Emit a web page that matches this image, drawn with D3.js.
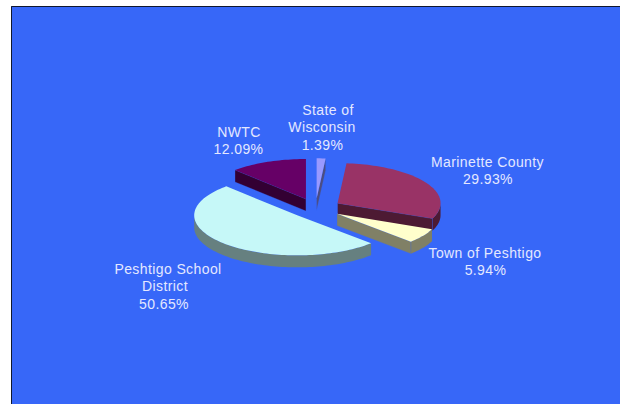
<!DOCTYPE html>
<html>
<head>
<meta charset="utf-8">
<style>
    html, body { margin: 0; padding: 0; background: #fff; overflow: hidden; }
    svg { display: block; }
    text {
        font-family: "Liberation Sans", Arial, sans-serif;
        font-size: 14px;
        letter-spacing: 0.4px;
        fill: #e4e8ff;
        text-anchor: middle;
    }
</style>
</head>
<body>
<script src="https://d3js.org/d3.v7.min.js"></script>
<script>
// shares, clockwise from 12 o'clock
var names = ["State of Wisconsin", "Marinette County", "Town of Peshtigo", "Peshtigo School District", "NWTC"];
var shares = [1.39, 29.93, 5.94, 50.65, 12.09];

// label lines, same order as above
var labelLines = [
  ["State of", "Wisconsin", "1.39%"],
  ["Marinette County", "29.93%"],
  ["Town of Peshtigo", "5.94%"],
  ["Peshtigo School", "District", "50.65%"],
  ["NWTC", "12.09%"]
];

var topColors = ["#9999ff", "#993366", "#ffffcc", "#c6f8f8", "#660066"];
var sideColors = ["#4d4d80", "#4d1a33", "#808066", "#668080", "#330033"];

var labelX = [[328, 322, 322.5], [487.5, 488], [485, 485.5], [168, 165, 164], [239, 238.5]];
var labelY = [115, 167, 258, 274, 137];
var lineGap = 17.3;

var width = 620, height = 404;
var explode = 0.25, depth = 12;
var panelColor = "#3767f8";

var svg = d3.select("body").append("svg").attr("width", width).attr("height", height);

// background panel, only the left and top edges have a frame
svg.append("rect").attr("x", 11).attr("y", 6).attr("width", width - 11).attr("height", height - 6)
    .attr("fill", panelColor);
svg.append("path").attr("d", "M11.5," + height + "V6.5H" + width)
    .attr("fill", "none").attr("stroke", "#10182e").attr("stroke-width", 1);

// unit circle to tilted ellipse
var x = d3.scaleLinear().domain([-1, 1]).range([315.5 - 103, 315.5 + 103]);
var y = d3.scaleLinear().domain([-1, 1]).range([208.3 - 40, 208.3 + 40]);

var slices = d3.pie().sort(null).startAngle(0).endAngle(2 * Math.PI)(shares);
var line = d3.line();

function arcPoints(a0, a1, ox, oy, drop) {
  var n = Math.max(2, Math.ceil((a1 - a0) / 0.03));
  return d3.range(n + 1).map(function(i) {
    var a = a0 + (a1 - a0) * i / n;
    return [x(ox + Math.sin(a)), y(oy - Math.cos(a)) + drop];
  });
}

function wall(p, q) {
  return line([[p[0], p[1]], [q[0], q[1]], [q[0], q[1] + depth], [p[0], p[1] + depth]]) + "Z";
}

var g = svg.selectAll("g.slice").data(slices).enter().append("g").attr("class", "slice");

g.each(function(d, i) {
  var s = d3.select(this);
  var mid = (d.startAngle + d.endAngle) / 2;
  var ox = explode * Math.sin(mid), oy = -explode * Math.cos(mid);
  var apex = [x(ox), y(oy)];
  var startPt = arcPoints(d.startAngle, d.startAngle, ox, oy, 0)[0];
  var endPt = arcPoints(d.endAngle, d.endAngle, ox, oy, 0)[0];

  // outer rim, visible only on the front half
  var a0 = Math.max(d.startAngle, Math.PI / 2), a1 = Math.min(d.endAngle, 3 * Math.PI / 2);
  if (a1 > a0) {
    var upper = arcPoints(a0, a1, ox, oy, 0);
    var lower = arcPoints(a0, a1, ox, oy, depth).reverse();
    s.append("path").attr("d", line(upper.concat(lower)) + "Z").attr("fill", sideColors[i]);
  }

  // cut faces that turn toward the viewer, they carry a thin panel coloured seam
  function cutFace(p, q) {
    s.append("path").attr("d", wall(p, q)).attr("fill", sideColors[i])
        .attr("stroke", panelColor).attr("stroke-width", 0.5).attr("stroke-opacity", 0.6);
  }
  if (Math.sin(d.startAngle) < -1e-6) cutFace(startPt, apex);
  if (Math.sin(d.endAngle) > 1e-6) cutFace(apex, endPt);

  // top face
  var topFace = [apex].concat(arcPoints(d.startAngle, d.endAngle, ox, oy, 0));
  s.append("path").attr("d", line(topFace) + "Z").attr("fill", topColors[i]);
});

var labels = svg.selectAll("text.label").data(names).enter().append("text")
    .attr("class", "label");

labels.selectAll("tspan").data(function(d, i) {
    return labelLines[i].map(function(t, j) { return { t: t, i: i, j: j }; });
  }).enter().append("tspan")
    .attr("x", function(d) { return labelX[d.i][d.j]; })
    .attr("y", function(d) { return labelY[d.i] + d.j * lineGap; })
    .text(function(d) { return d.t; });
</script>
</body>
</html>
